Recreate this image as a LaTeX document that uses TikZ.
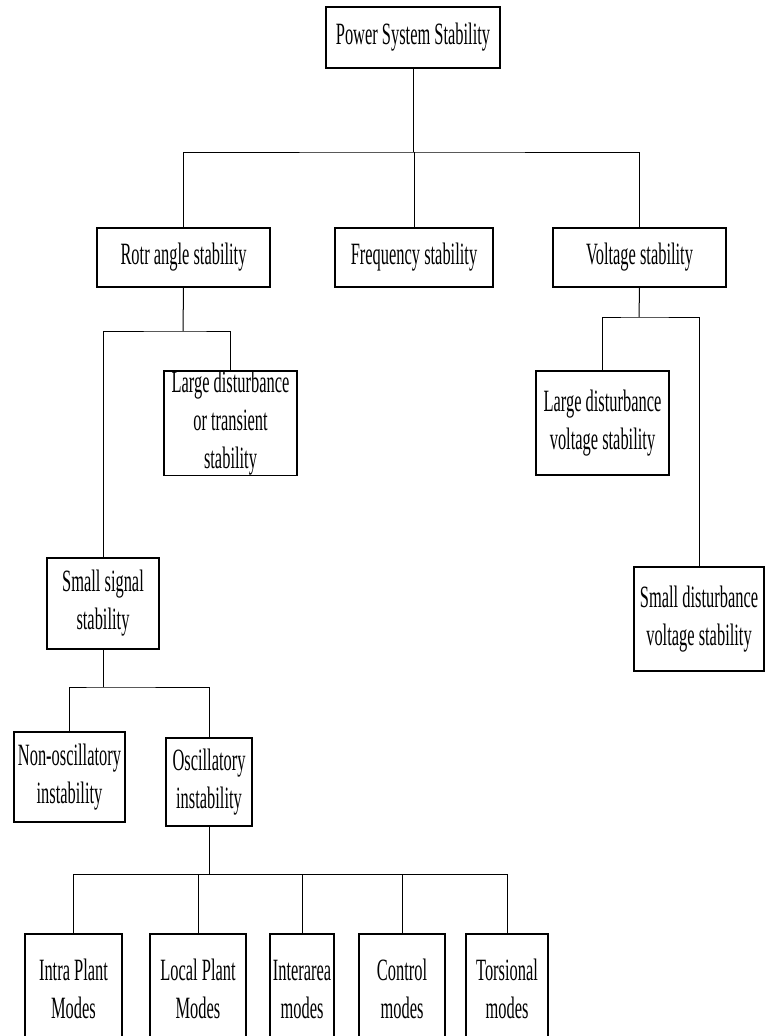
\documentclass[tikz,border=0pt]{standalone}
\usepackage{fontspec}
\setmainfont{Liberation Serif}[FakeStretch=0.53]
\usepackage{tikz}
\usetikzlibrary{positioning}

\begin{document}
\begin{tikzpicture}[
  x=1pt, y=-1pt,
  font=\fontsize{31}{38}\selectfont,
  box/.style={draw, line width=1.2pt, inner sep=0pt, align=center},
  link/.style={line width=1pt}
]
\useasboundingbox (0,0) rectangle (765,1036);

\node[box, minimum width=174pt, minimum height=61pt] (pss) at (413,37.5) {Power System Stability};

\node[box, minimum width=173pt, minimum height=59pt] (rotor) at (183.5,257.5) {Rotr angle stability};
\node[box, minimum width=158pt, minimum height=59pt] (freq) at (414,257.5) {Frequency stability};
\node[box, minimum width=173pt, minimum height=59pt] (volt) at (639.5,257.5) {Voltage stability};

\node[box, minimum width=133pt, minimum height=104pt] (ldrotor) at (230.5,423) {Large disturbance\\or transient\\stability};
\node[box, minimum width=112pt, minimum height=91pt] (ssig) at (103,603.5) {Small signal\\stability};

\node[box, minimum width=133pt, minimum height=104pt] (ldvolt) at (602.5,423) {Large disturbance\\voltage stability};
\node[box, minimum width=130pt, minimum height=104pt] (sdvolt) at (699,619) {Small disturbance\\voltage stability};

\node[box, minimum width=111pt, minimum height=90pt] (nonosc) at (69.5,777) {Non-oscillatory\\instability};
\node[box, minimum width=86pt, minimum height=88pt] (osc) at (209,782) {Oscillatory\\instability};

\node[box, minimum width=97pt, minimum height=110pt] (intra) at (73.5,989) {Intra Plant\\Modes};
\node[box, minimum width=96pt, minimum height=110pt] (local) at (198,989) {Local Plant\\Modes};
\node[box, minimum width=64pt, minimum height=110pt] (inter) at (302,989) {Interarea\\modes};
\node[box, minimum width=86pt, minimum height=110pt] (control) at (402,989) {Control\\modes};
\node[box, minimum width=82pt, minimum height=110pt] (tors) at (507,989) {Torsional\\modes};

\coordinate (top) at (413,152);
\coordinate (rbus) at (183,331);
\coordinate (vbus) at (639,317);
\coordinate (sbus) at (103,687);
\coordinate (obus) at (209,874);

\draw[link] (pss.south) -- (top);
\draw[link] (rotor.north) |- (top) -| (volt.north);
\draw[link] (freq.north) -- (freq.north |- top);

\draw[link] (rotor.south) -- (rbus);
\draw[link] (ssig.north) |- (rbus) -| (ldrotor.north);

\draw[link] (volt.south) -- (vbus);
\draw[link] (ldvolt.north) |- (vbus) -| (sdvolt.north);

\draw[link] (ssig.south) -- (sbus);
\draw[link] (nonosc.north) |- (sbus) -| (osc.north);

\draw[link] (osc.south) -- (obus);
\draw[link] (intra.north) |- (obus) -| (tors.north);
\foreach \m in {local, inter, control}
  \draw[link] (\m.north) -- (\m.north |- obus);
\end{tikzpicture}
\end{document}
